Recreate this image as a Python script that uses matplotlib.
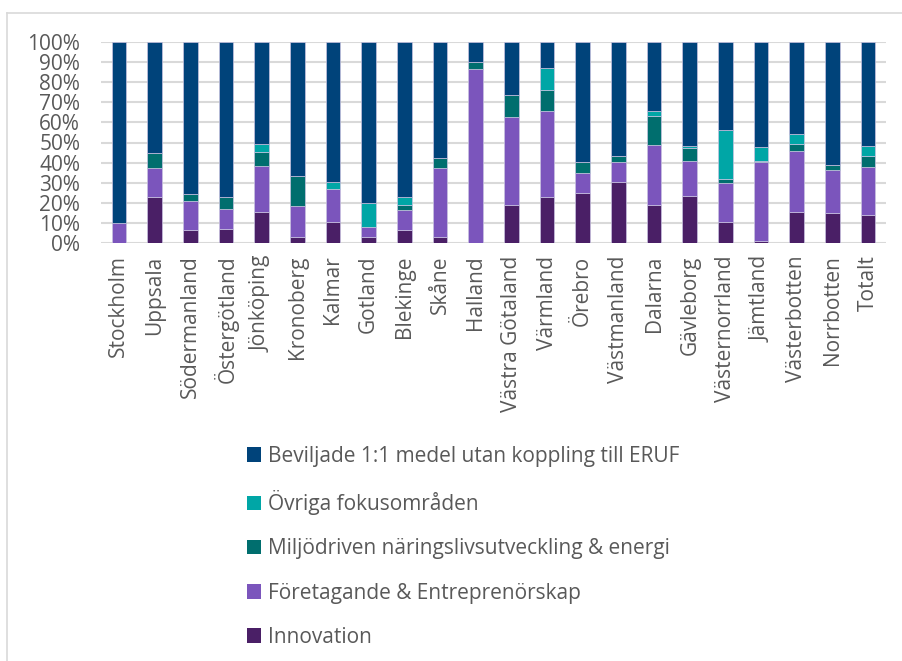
import numpy as np
import matplotlib
matplotlib.use("Agg")
import matplotlib.pyplot as plt
from matplotlib.patches import Patch
from matplotlib.lines import Line2D

plt.rcParams['font.family'] = ['Open Sans', 'DejaVu Sans']

regions = ["Stockholm", "Uppsala", "Södermanland", "Östergötland", "Jönköping",
           "Kronoberg", "Kalmar", "Gotland", "Blekinge", "Skåne", "Halland",
           "Västra Götaland", "Värmland", "Örebro", "Västmanland", "Dalarna",
           "Gävleborg", "Västernorrland", "Jämtland", "Västerbotten", "Norrbotten",
           "Totalt"]

# percent shares
innovation = [0, 22.7, 6.3, 6.8, 15.3, 3.0, 10.2, 2.8, 6.3, 2.8, 0,
              19.0, 22.7, 24.8, 30.2, 19.0, 23.2, 10.3, 1.0, 15.5, 14.7, 14.0]
foretagande = [10.0, 14.8, 14.5, 9.9, 23.0, 15.3, 16.5, 5.4, 10.2, 34.5, 86.5,
               43.5, 43.0, 10.0, 10.0, 29.8, 17.8, 19.4, 39.3, 30.5, 21.8, 24.0]
miljo = [0, 7.3, 3.4, 6.0, 7.0, 14.9, 0.3, 0, 2.5, 5.2, 3.5,
         11.3, 10.6, 5.4, 3.3, 14.5, 6.2, 2.3, 0.7, 3.3, 2.5, 5.3]
ovriga = [0, 0, 0, 0, 4.0, 0, 3.2, 11.5, 4.0, 0, 0,
          0, 10.9, 0, 0, 2.4, 1.0, 24.0, 7.0, 4.7, 0, 5.0]
beviljade = [100 - a - b - c - d for a, b, c, d in zip(innovation, foretagande, miljo, ovriga)]

series = [
    ("Innovation", innovation, "#4a1f66"),
    ("Företagande & Entreprenörskap", foretagande, "#7b55bc"),
    ("Miljödriven näringslivsutveckling & energi", miljo, "#006e6e"),
    ("Övriga fokusområden", ovriga, "#00a6a6"),
    ("Beviljade 1:1 medel utan koppling till ERUF", beviljade, "#00437a"),
]

W, H = 902, 661
fig = plt.figure(figsize=(W / 100, H / 100), dpi=100)
ax = fig.add_axes([101 / W, 1 - 243 / H, 785 / W, 201 / H])

x = np.arange(len(regions))
bottom = np.zeros(len(regions))
for name, vals, col in series:
    vals = np.array(vals)
    ax.bar(x, vals, 0.41, bottom=bottom, color=col, edgecolor="#c9c3e0",
           linewidth=0.5, zorder=3)
    bottom += vals

ax.set_xlim(-0.5, len(regions) - 0.5)
ax.set_ylim(0, 100)
ax.set_yticks(np.arange(0, 101, 10))
ax.set_yticklabels([f"{v}%" for v in range(0, 101, 10)])
ax.set_xticks(x)
ax.set_xticklabels(regions, rotation=90)
ax.grid(axis="y", color="#d9d9d9", linewidth=1.5, zorder=0)
for s in ax.spines.values():
    s.set_visible(False)
ax.tick_params(axis="both", length=0, labelsize=15, labelcolor="#595959")
ax.tick_params(axis="y", pad=15)
ax.tick_params(axis="x", pad=9)

handles = [Patch(facecolor=col, label=name) for name, vals, col in reversed(series)]
fig.legend(handles=handles, loc="upper left", bbox_to_anchor=(228 / W, 1 - 427 / H),
           frameon=False, fontsize=15, labelcolor="#595959", handlelength=0.7,
           handleheight=0.7, handletextpad=0.3, labelspacing=1.12)

# chart frame
fig.add_artist(Line2D([7 / W, 1], [1 - 13 / H, 1 - 13 / H], color="#d9d9d9", lw=1.2))
fig.add_artist(Line2D([7 / W, 7 / W], [0, 1 - 13 / H], color="#d9d9d9", lw=1.2))

fig.savefig("out.png", dpi=100)
